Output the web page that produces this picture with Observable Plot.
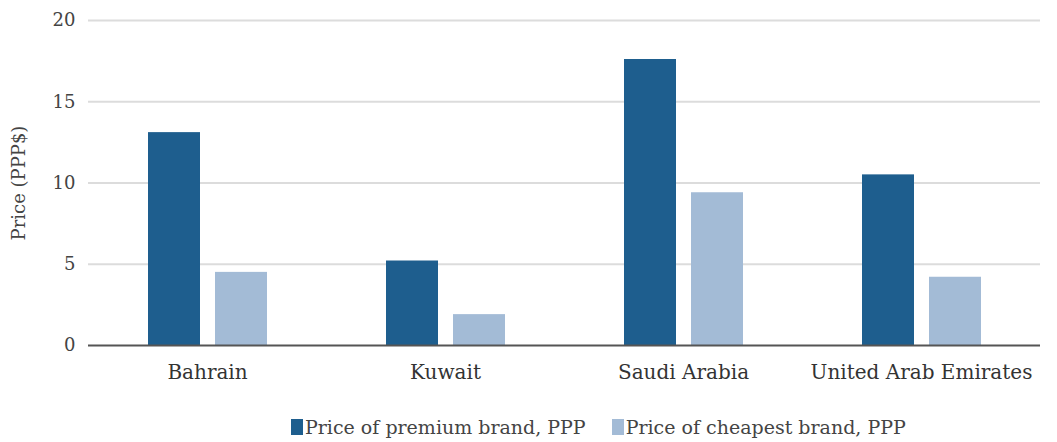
<!DOCTYPE html>
<html><head><meta charset="utf-8">
<script src="https://cdn.jsdelivr.net/npm/d3@7"></script>
<script src="https://cdn.jsdelivr.net/npm/@observablehq/plot@0.6"></script>
<style>
body{margin:0;background:#fff;font-family:"DejaVu Serif",serif;}
#chart{position:relative;width:1057px;height:442px;}
#legend{position:absolute;left:291px;top:416px;display:flex;align-items:center;font-size:19px;color:#444;white-space:nowrap;}
#legend .sw{display:inline-block;width:12px;height:16px;margin-right:2px;}
#legend .item{display:flex;align-items:center;margin-right:26px;}
</style></head><body><div id="chart"></div>
<script>
const countries = ["Bahrain", "Kuwait", "Saudi Arabia", "United Arab Emirates"];
const premium = [13.1, 5.2, 17.6, 10.5];
const cheapest = [4.5, 1.9, 9.4, 4.2];
const seriesNames = ["Price of premium brand, PPP", "Price of cheapest brand, PPP"];
const colors = ["#1e5e8e", "#a3bbd6"];
const yTicks = [0, 5, 10, 15, 20];

const data = countries.flatMap((c, i) => [
  {country: c, series: seriesNames[0], value: premium[i]},
  {country: c, series: seriesNames[1], value: cheapest[i]}
]);

const chart = Plot.plot({
  width: 1057, height: 400,
  marginTop: 20, marginBottom: 55, marginLeft: 86, marginRight: 16,
  style: {fontFamily: "DejaVu Serif", fontSize: "18px", color: "#444", background: "#fff"},
  fx: {domain: countries, padding: 0, label: null},
  x: {domain: seriesNames, axis: null, paddingInner: 0.224, paddingOuter: 0.88},
  y: {domain: [0, 20]},
  color: {domain: seriesNames, range: colors},
  marks: [
    Plot.ruleY(yTicks.filter(d => d > 0), {stroke: "#dcdcdc", strokeWidth: 2}),
    Plot.axisY(yTicks, {tickSize: 0, tickPadding: 13, fontSize: 18, fill: "#444",
      label: "Price (PPP$)", labelAnchor: "center", labelArrow: "none", labelOffset: 76}),
    Plot.axisFx({anchor: "bottom", tickSize: 0, tickPadding: 19, label: null, fontSize: 20, fill: "#333"}),
    Plot.barY(data, {fx: "country", x: "series", y: "value", fill: "series"}),
    Plot.ruleY([0], {stroke: "#555", strokeWidth: 2})
  ]
});
document.getElementById("chart").appendChild(chart);

const legend = document.createElement("div");
legend.id = "legend";
seriesNames.forEach((s, i) => {
  const item = document.createElement("span");
  item.className = "item";
  const sw = document.createElement("span");
  sw.className = "sw";
  sw.style.background = colors[i];
  item.appendChild(sw);
  item.appendChild(document.createTextNode(s));
  legend.appendChild(item);
});
document.getElementById("chart").appendChild(legend);
</script></body></html>
